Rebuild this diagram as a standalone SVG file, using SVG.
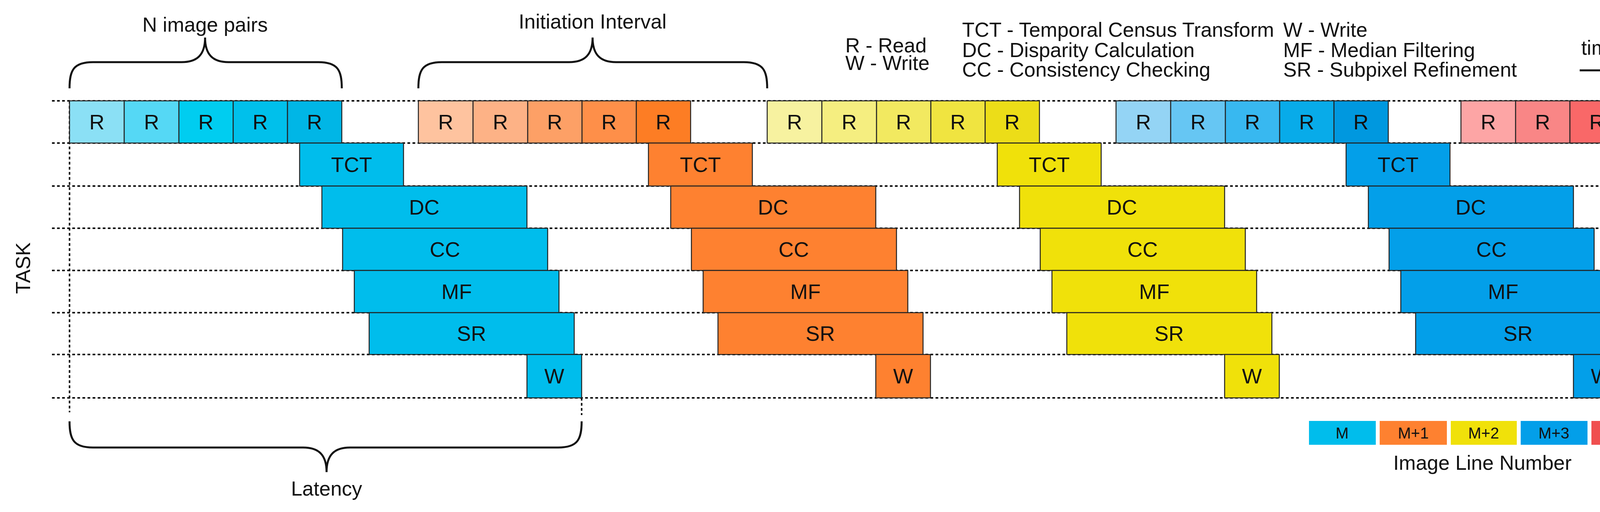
<svg xmlns="http://www.w3.org/2000/svg" width="4349" height="1310" viewBox="0 0 4349 1310">
<style>
text{font-family:"Liberation Sans Narrow","Liberation Sans",Arial,sans-serif;fill:#111}
.lb{font-size:54px;text-anchor:middle;dominant-baseline:central}
.big{font-size:52px}
.b{stroke:#222;stroke-width:2.5}
.dl{stroke:#111;stroke-width:4;stroke-dasharray:7 6;fill:none}
.br{stroke:#111;stroke-width:5;fill:none}
.lg{font-size:40px;text-anchor:middle;dominant-baseline:central}
</style>
<defs>
<marker id="ah" markerWidth="8" markerHeight="8" refX="6" refY="4" orient="auto" markerUnits="strokeWidth"><path d="M0,0 L8,4 L0,8 z" fill="#111"/></marker>
<g id="tasks">
<rect class="b" x="767" y="366" width="266" height="110"/><text class="lb" x="900" y="421">TCT</text>
<rect class="b" x="824" y="476" width="525" height="108"/><text class="lb" x="1086" y="530">DC</text>
<rect class="b" x="877" y="584" width="525" height="108"/><text class="lb" x="1139" y="638">CC</text>
<rect class="b" x="907" y="692" width="524" height="108"/><text class="lb" x="1169" y="746">MF</text>
<rect class="b" x="945" y="800" width="525" height="107"/><text class="lb" x="1207" y="853">SR</text>
<rect class="b" x="1349" y="907" width="140" height="111"/><text class="lb" x="1419" y="962">W</text>
</g>
</defs>
<g id="grid">
<line class="dl" x1="133" y1="258" x2="4209" y2="258"/>
<line class="dl" x1="133" y1="366" x2="4209" y2="366"/>
<line class="dl" x1="133" y1="476" x2="4209" y2="476"/>
<line class="dl" x1="133" y1="584" x2="4209" y2="584"/>
<line class="dl" x1="133" y1="692" x2="4209" y2="692"/>
<line class="dl" x1="133" y1="800" x2="4209" y2="800"/>
<line class="dl" x1="133" y1="907" x2="4209" y2="907"/>
<line class="dl" x1="133" y1="1018" x2="4209" y2="1018"/>
<line class="dl" x1="178" y1="258" x2="178" y2="1055"/>
<line class="dl" x1="1489" y1="1018" x2="1489" y2="1062"/>
</g>
<g id="connectors">
<path class="br" d="M178,226 C178,180 188,159 238,159 L465,159 C505,159 525,140 525,96 C525,140 545,159 585,159 L815,159 C865,159 875,180 875,226"/>
<path class="br" d="M1071,226 C1071,180 1081,159 1131,159 L1457,159 C1497,159 1517,140 1517,96 C1517,140 1537,159 1577,159 L1904,159 C1954,159 1964,180 1964,226"/>
<path class="br" d="M178,1078 C178,1124 188,1145 238,1145 L776,1145 C816,1145 836,1164 836,1208 C836,1164 856,1145 896,1145 L1429,1145 C1479,1145 1489,1124 1489,1078"/>
<line x1="4044" y1="180" x2="4140" y2="180" stroke="#111" stroke-width="5" marker-end="url(#ah)"/>
</g>
<g id="group-M">
<rect class="b" x="178" y="258" width="140" height="108" fill="#8be0f5"/><text class="lb" x="248" y="312">R</text>
<rect class="b" x="318" y="258" width="140" height="108" fill="#55d8f5"/><text class="lb" x="388" y="312">R</text>
<rect class="b" x="458" y="258" width="139" height="108" fill="#00cdf0"/><text class="lb" x="527" y="312">R</text>
<rect class="b" x="597" y="258" width="139" height="108" fill="#00c0eb"/><text class="lb" x="666" y="312">R</text>
<rect class="b" x="736" y="258" width="139" height="108" fill="#00b6e6"/><text class="lb" x="805" y="312">R</text>
<use href="#tasks" fill="#00bdec"/>
</g>
<g id="group-M1" transform="translate(893,0)">
<rect class="b" x="178" y="258" width="140" height="108" fill="#fec39f"/><text class="lb" x="248" y="312">R</text>
<rect class="b" x="318" y="258" width="140" height="108" fill="#fdb286"/><text class="lb" x="388" y="312">R</text>
<rect class="b" x="458" y="258" width="139" height="108" fill="#fda066"/><text class="lb" x="527" y="312">R</text>
<rect class="b" x="597" y="258" width="139" height="108" fill="#fe8f49"/><text class="lb" x="666" y="312">R</text>
<rect class="b" x="736" y="258" width="139" height="108" fill="#fd7d24"/><text class="lb" x="805" y="312">R</text>
<use href="#tasks" fill="#fe8130"/>
</g>
<g id="group-M2" transform="translate(1786,0)">
<rect class="b" x="178" y="258" width="140" height="108" fill="#f7f2a0"/><text class="lb" x="248" y="312">R</text>
<rect class="b" x="318" y="258" width="140" height="108" fill="#f5ee80"/><text class="lb" x="388" y="312">R</text>
<rect class="b" x="458" y="258" width="139" height="108" fill="#f2e960"/><text class="lb" x="527" y="312">R</text>
<rect class="b" x="597" y="258" width="139" height="108" fill="#f0e440"/><text class="lb" x="666" y="312">R</text>
<rect class="b" x="736" y="258" width="139" height="108" fill="#ecdd18"/><text class="lb" x="805" y="312">R</text>
<use href="#tasks" fill="#f0e10a"/>
</g>
<g id="group-M3" transform="translate(2679,0)">
<rect class="b" x="178" y="258" width="140" height="108" fill="#94d4f5"/><text class="lb" x="248" y="312">R</text>
<rect class="b" x="318" y="258" width="140" height="108" fill="#66c6f3"/><text class="lb" x="388" y="312">R</text>
<rect class="b" x="458" y="258" width="139" height="108" fill="#38b8f0"/><text class="lb" x="527" y="312">R</text>
<rect class="b" x="597" y="258" width="139" height="108" fill="#08abe9"/><text class="lb" x="666" y="312">R</text>
<rect class="b" x="736" y="258" width="139" height="108" fill="#0098df"/><text class="lb" x="805" y="312">R</text>
<use href="#tasks" fill="#039fe9"/>
</g>
<g id="group-M4">
<rect class="b" x="3740" y="258" width="140" height="108" fill="#fda5a5"/><text class="lb" x="3810" y="312">R</text>
<rect class="b" x="3880" y="258" width="139" height="108" fill="#f98686"/><text class="lb" x="3949" y="312">R</text>
<rect class="b" x="4019" y="258" width="139" height="108" fill="#f96868"/><text class="lb" x="4088" y="312">R</text>
<rect class="b" x="4167" y="267" width="20" height="90" fill="#f04f4f"/>
<circle cx="4222" cy="311" r="5" fill="#111"/><circle cx="4256" cy="311" r="5" fill="#111"/><circle cx="4290" cy="311" r="5" fill="#111"/>
</g>
<g id="labels">
<text class="big" x="525" y="63" text-anchor="middle" dominant-baseline="central">N image pairs</text>
<text class="big" x="1517" y="55" text-anchor="middle" dominant-baseline="central">Initiation Interval</text>
<text class="big" x="836" y="1250" text-anchor="middle" dominant-baseline="central">Latency</text>
<text class="big" x="59" y="686" text-anchor="middle" dominant-baseline="central" transform="rotate(-90 59 686)">TASK</text>
<text class="big" x="2164" y="116" dominant-baseline="central">R - Read</text>
<text class="big" x="2164" y="161" dominant-baseline="central">W - Write</text>
<text class="big" x="2463" y="76" dominant-baseline="central">TCT - Temporal Census Transform</text>
<text class="big" x="2463" y="128" dominant-baseline="central">DC - Disparity Calculation</text>
<text class="big" x="2463" y="178" dominant-baseline="central">CC - Consistency Checking</text>
<text class="big" x="3285" y="76" dominant-baseline="central">W - Write</text>
<text class="big" x="3285" y="128" dominant-baseline="central">MF - Median Filtering</text>
<text class="big" x="3285" y="178" dominant-baseline="central">SR - Subpixel Refinement</text>
<text class="big" x="4097" y="122" text-anchor="middle" dominant-baseline="central">time</text>
</g>
<g id="legend">
<rect x="3351" y="1077" width="171" height="61" fill="#00bdec"/><text class="lg" x="3436" y="1108">M</text>
<rect x="3532" y="1077" width="172" height="61" fill="#fe8130"/><text class="lg" x="3618" y="1108">M+1</text>
<rect x="3714" y="1077" width="169" height="61" fill="#f0e10a"/><text class="lg" x="3798" y="1108">M+2</text>
<rect x="3893" y="1077" width="171" height="61" fill="#039fe9"/><text class="lg" x="3978" y="1108">M+3</text>
<rect x="4074" y="1077" width="172" height="61" fill="#f04f4f"/><text class="lg" x="4160" y="1108">M+4</text>
<text class="big" x="3795" y="1184" text-anchor="middle" dominant-baseline="central">Image Line Number</text>
</g>
</svg>
